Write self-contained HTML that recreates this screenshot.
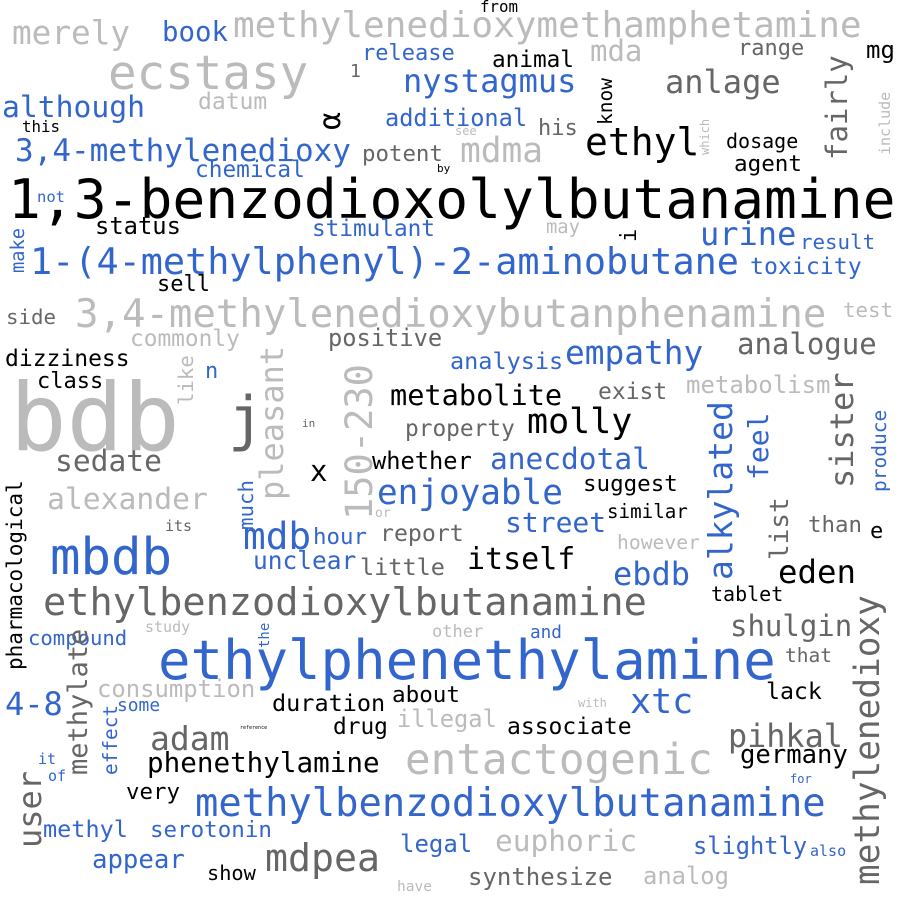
<!DOCTYPE html>
<html>
<head>
<meta charset="utf-8">
<style>
html,body{margin:0;padding:0;background:#fff;}
#cloud{position:relative;width:900px;height:900px;overflow:hidden;background:#fff;}
#cloud span{position:absolute;white-space:nowrap;line-height:1;font-family:"DejaVu Sans Mono","Liberation Mono",monospace;}
</style>
</head>
<body>
<div id="cloud"></div>
<script>
// word, x-left, baseline (horizontal) or bottom y (vertical), font size, color key, vertical flag
const words = ["1,3-benzodioxolylbutanamine","bdb","ethylphenethylamine","methylenedioxymethamphetamine","ecstasy","merely","book","from","mda","range","mg","1","release","animal","nystagmus","anlage","fairly","know","α","although","datum","this","additional","his","see","ethyl","dosage","which","include","3,4-methylenedioxy","potent","mdma","agent","chemical","by","not","status","stimulant","may","i","urine","result","make","1-(4-methylphenyl)-2-aminobutane","toxicity","sell","side","3,4-methylenedioxybutanphenamine","test","commonly","positive","dizziness","analysis","empathy","analogue","class","n","like","pleasant","150-230","metabolite","exist","metabolism","j","in","sister","alkylated","feel","produce","property","molly","sedate","x","whether","anecdotal","suggest","enjoyable","alexander","pharmacological","much","its","or","similar","list","than","e","street","report","mbdb","mdb","hour","however","itself","unclear","little","ebdb","eden","tablet","ethylbenzodioxylbutanamine","methylenedioxy","shulgin","study","compound","the","other","and","that","methylate","4-8","consumption","duration","about","xtc","lack","some","with","illegal","reference","adam","drug","associate","entactogenic","pihkal","it","of","user","effect","phenethylamine","germany","for","very","methylbenzodioxylbutanamine","methyl","serotonin","legal","euphoric","slightly","also","mdpea","appear","show","synthesize","analog","have"];
const xs = [8,10,158,233,108,12,162,480,590,738,866,350,362,492,403,665,826,598,320,2,198,22,385,538,455,585,726,700,880,15,362,460,734,195,437,37,95,312,546,622,700,800,12,30,750,157,6,75,843,130,328,5,450,565,737,37,205,178,260,345,390,598,686,228,302,830,708,748,872,405,527,55,310,372,490,583,377,47,8,238,165,375,607,770,808,870,505,380,50,243,313,617,467,253,360,613,778,711,43,855,730,145,28,260,432,530,785,68,5,97,272,392,630,766,117,578,397,240,150,333,507,405,728,38,48,18,103,147,740,790,126,195,43,150,400,495,693,810,265,92,207,468,643,397];
const ys = [218,452,680,38,90,45,42,12,62,57,58,78,62,68,92,93,160,125,130,118,110,132,127,137,135,155,148,155,155,162,162,163,172,178,172,203,235,237,235,242,245,250,273,275,275,293,325,328,318,347,347,367,370,365,355,390,380,405,500,520,405,400,393,440,427,488,580,480,492,437,435,472,482,470,470,492,505,510,670,530,532,518,518,560,533,540,533,542,575,550,545,550,570,570,576,585,583,601,617,885,637,633,645,648,638,640,662,775,715,698,712,703,715,700,712,707,728,730,750,735,735,775,748,765,782,848,775,772,765,783,800,818,838,838,852,852,855,857,872,870,880,885,885,892];
const sizes = [54.6,94,54,36,47.5,32.7,27.4,15.8,29,22,24,18,22,22.7,32,32,29,19.5,30,29.7,23,15.8,23.6,22,12,38,20,12,15,31,22.4,34.5,22.6,22.8,11,15.5,23.8,22.7,18.8,22,32,20.8,18.7,36.8,23.2,22,20.8,39,20.8,22.8,23.7,23,23.5,32.8,29,22,22,20.7,32,37,28.6,23,24,60,11,32,33,28,19.5,22.8,35,29.6,29,23.7,29.5,22.5,34.3,29.7,21,20.8,15,13,19.2,26,22.4,22,28,23.2,50.7,37.7,22.4,19.7,30,24.5,23.5,32,32.4,20,38.6,34.4,29,15,20.6,14,17,17.7,19.5,27,32,23.9,23.5,22.6,35,23.2,17.9,12,23.7,5,33,22.8,23,42.6,31.8,15,15,32,19.4,27.6,25.6,12,22.4,38.8,23.5,22.5,24,29.5,23.7,15,38.2,25.7,20.3,24,23.8,14.5];
const colorKeys = ["k","l","b","l","l","l","b","k","l","d","k","d","b","k","b","d","d","k","k","b","l","k","b","d","l","k","k","l","l","b","d","l","k","b","k","b","k","b","l","k","b","b","b","b","b","k","d","l","l","l","d","k","b","b","d","k","b","l","l","l","k","d","l","d","d","d","b","b","b","d","k","d","k","k","b","k","b","l","k","b","d","l","k","d","d","k","b","d","b","b","b","l","k","b","d","b","k","k","d","d","d","l","b","b","l","b","d","d","b","l","k","k","b","k","b","l","l","k","d","k","k","l","d","b","b","d","b","k","k","b","k","b","b","b","b","l","b","b","d","b","k","d","l","l"];
const vertical = [0,0,0,0,0,0,0,0,0,0,0,0,0,0,0,0,1,1,1,0,0,0,0,0,0,0,0,1,1,0,0,0,0,0,0,0,0,0,0,1,0,0,1,0,0,0,0,0,0,0,0,0,0,0,0,0,0,1,1,1,0,0,0,0,0,1,1,1,1,0,0,0,0,0,0,0,0,0,1,1,0,0,0,1,0,0,0,0,0,0,0,0,0,0,0,0,0,0,0,1,0,0,0,1,0,0,0,1,0,0,0,0,0,0,0,0,0,0,0,0,0,0,0,0,0,1,1,0,0,0,0,0,0,0,0,0,0,0,0,0,0,0,0,0];
const palette = {k:"#000000", d:"#666666", l:"#bbbbbb", b:"#3366cc"};

const cloud = document.getElementById('cloud');
for (let i = 0; i < words.length; i++) {
  const el = document.createElement('span');
  
  
  const fs = sizes[i];
  el.textContent = words[i];
  el.style.fontSize = fs + 'px';
  el.style.color = palette[colorKeys[i]];
  if (vertical[i]) {
    el.style.left = (xs[i] - 0.12 * fs) + 'px';
    el.style.top = ys[i] + 'px';
    el.style.transformOrigin = '0 0';
    el.style.transform = 'rotate(-90deg)';
  } else {
    el.style.left = xs[i] + 'px';
    el.style.top = (ys[i] - 0.846 * fs) + 'px';
  }
  cloud.appendChild(el);
}
</script>
</body>
</html>
